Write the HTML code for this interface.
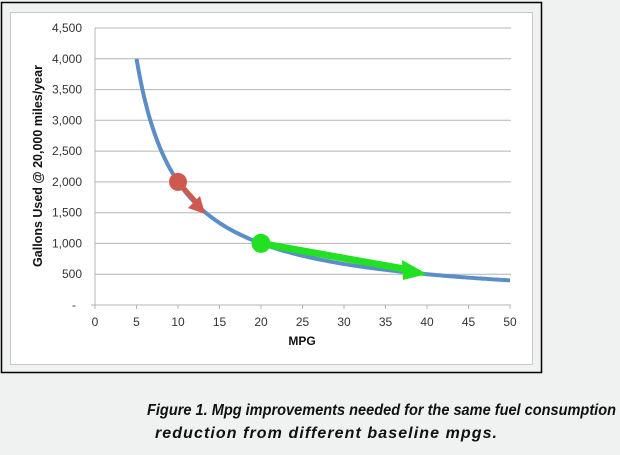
<!DOCTYPE html>
<html><head><style>
html,body{margin:0;padding:0;background:#f0f1f1;}
</style></head><body>
<svg width="620" height="450" xmlns="http://www.w3.org/2000/svg" font-family="Liberation Sans, Arial, sans-serif">
<rect x="0" y="0" width="620" height="450" fill="#f0f1f1"/>
<rect x="1.5" y="2.5" width="540" height="370" fill="#f0f1f1" stroke="#000" stroke-width="1.5"/>
<rect x="10.5" y="12.5" width="522" height="352" fill="#fff" stroke="#c8c8c8" stroke-width="1"/>
<g stroke="#b4b4b4" stroke-width="1">
<line x1="95" x2="511" y1="28" y2="28"/>
<line x1="95" x2="511" y1="58.8" y2="58.8"/>
<line x1="95" x2="511" y1="89.6" y2="89.6"/>
<line x1="95" x2="511" y1="120.3" y2="120.3"/>
<line x1="95" x2="511" y1="151.1" y2="151.1"/>
<line x1="95" x2="511" y1="181.9" y2="181.9"/>
<line x1="95" x2="511" y1="212.7" y2="212.7"/>
<line x1="95" x2="511" y1="243.4" y2="243.4"/>
<line x1="95" x2="511" y1="274.2" y2="274.2"/>
<line x1="95" x2="511" y1="305" y2="305"/>
<line x1="95" x2="95" y1="28" y2="305"/>
<line x1="91" x2="95" y1="305" y2="305"/>
<line x1="95" x2="95" y1="305" y2="309"/><line x1="136.5" x2="136.5" y1="305" y2="309"/><line x1="178" x2="178" y1="305" y2="309"/><line x1="219.5" x2="219.5" y1="305" y2="309"/><line x1="261" x2="261" y1="305" y2="309"/><line x1="302.5" x2="302.5" y1="305" y2="309"/><line x1="344" x2="344" y1="305" y2="309"/><line x1="385.5" x2="385.5" y1="305" y2="309"/><line x1="427" x2="427" y1="305" y2="309"/><line x1="468.5" x2="468.5" y1="305" y2="309"/><line x1="510" x2="510" y1="305" y2="309"/>
</g>
<g font-size="12" fill="#333" text-anchor="end">
<text x="82" y="32">4,500</text><text x="82" y="63">4,000</text><text x="82" y="93.6">3,500</text><text x="82" y="124.3">3,000</text><text x="82" y="155.1">2,500</text><text x="82" y="185.9">2,000</text><text x="82" y="216.7">1,500</text><text x="82" y="247.4">1,000</text><text x="82" y="278.2">500</text><text x="76" y="309">-</text>
</g>
<g font-size="12" fill="#333" text-anchor="middle">
<text x="95" y="326">0</text><text x="136.5" y="326">5</text><text x="178" y="326">10</text><text x="219.5" y="326">15</text><text x="261" y="326">20</text><text x="302.5" y="326">25</text><text x="344" y="326">30</text><text x="385.5" y="326">35</text><text x="427" y="326">40</text><text x="468.5" y="326">45</text><text x="510" y="326">50</text>
</g>
<text x="302" y="345" font-size="12" font-weight="bold" text-anchor="middle" fill="#111">MPG</text>
<text transform="translate(42,166) rotate(-90)" font-size="12.5" font-weight="bold" text-anchor="middle" fill="#111">Gallons Used @ 20,000 miles/year</text>
<path id="c" fill="none" stroke="#5b8ec7" stroke-width="4" d=""/>
<script>
var d="";for(var v=5;v<=50;v+=0.25){var x=95+8.3*v,y=305-20000/v*0.061556;d+=(v==5?"M":"L")+x.toFixed(1)+","+y.toFixed(1);}document.getElementById("c").setAttribute("d",d);
</script>
<line x1="178" y1="181.9" x2="195" y2="201" stroke="#d0584e" stroke-width="5"/>
<polygon points="188,208 200,196 205,214" fill="#d0584e"/>
<circle cx="178" cy="181.9" r="9" fill="#d0584e"/>
<line x1="261" y1="243.4" x2="410" y2="270" stroke="#22e022" stroke-width="7"/>
<polygon points="402,260 427,274 403,280" fill="#22e022"/>
<circle cx="261" cy="243.4" r="9.5" fill="#22e022"/>
<g font-size="16" font-weight="bold" font-style="italic" fill="#111">
<text x="147" y="415" textLength="469" lengthAdjust="spacingAndGlyphs">Figure 1. Mpg improvements needed for the same fuel consumption</text>
<text x="155" y="438" font-size="16" textLength="342" lengthAdjust="spacing">reduction from different baseline mpgs.</text>
</g>
</svg>
</body></html>
